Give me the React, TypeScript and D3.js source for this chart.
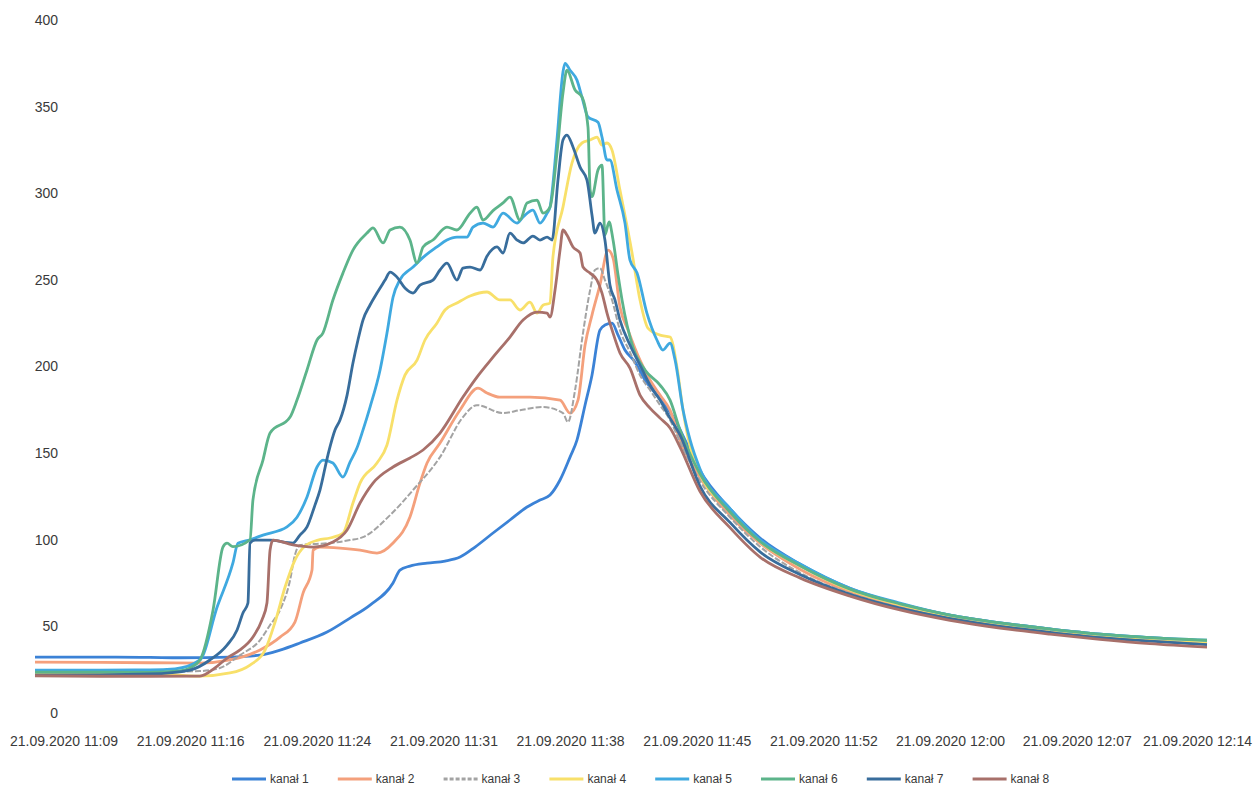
import React, { useEffect, useRef } from "react";
import * as d3 from "d3";

// minutes after 11:00
const tickMinutes = [9, 16.33, 23.67, 31, 38.33, 45.67, 53, 60.33, 67.67, 75];
const tickLabels = [
  "21.09.2020 11:09",
  "21.09.2020 11:16",
  "21.09.2020 11:24",
  "21.09.2020 11:31",
  "21.09.2020 11:38",
  "21.09.2020 11:45",
  "21.09.2020 11:52",
  "21.09.2020 12:00",
  "21.09.2020 12:07",
  "21.09.2020 12:14",
];
const yTicks = [0, 50, 100, 150, 200, 250, 300, 350, 400];

const seriesNames = ["kanał 1", "kanał 2", "kanał 3", "kanał 4", "kanał 5", "kanał 6", "kanał 7", "kanał 8"];
const seriesColors = ["#3b82d6", "#f4a07c", "#a3a3a3", "#f8e06a", "#3fa9e0", "#5cb48a", "#386d9c", "#a8706a"];

const kanal1: [number, number][] = [
  [7.32, 32.3], [11.08, 32.3], [13.98, 32.1], [15.72, 31.9], [18.61, 32.3], [20.35, 33.4], [21.51, 36.3],
  [22.66, 40.4], [24.23, 46.7], [25.56, 54.8], [26.72, 62.3], [28.05, 75], [28.45, 82.5], [29.03, 84.8],
  [30.02, 86.5], [31.06, 87.7], [31.93, 90], [32.8, 95.8], [33.84, 103.9], [34.82, 111.4], [35.81, 118.9],
  [36.56, 122.9], [37.14, 125.8], [37.72, 134.5], [38.3, 147.7], [38.7, 157.5], [39.17, 177.8], [39.57, 195],
  [40.03, 221], [40.32, 223.9], [40.73, 225], [41.08, 218.1], [41.48, 209.5], [42.06, 202.6], [42.64, 192.2],
  [43.22, 184.7], [43.8, 177.7], [44.38, 169.1], [44.96, 157.5], [45.82, 140], [47.56, 118], [49.3, 101],
  [51.61, 86], [54.51, 72], [57.4, 63], [60.3, 56.5], [63.19, 52], [66.09, 48.5], [68.98, 45.5], [71.88, 43.5],
  [75.18, 41.5],
];

const kanal2: [number, number][] = [
  [7.32, 29.4], [11.08, 29.2], [13.98, 29], [16.87, 28.8], [18.61, 30.6], [20.35, 36.4], [21.51, 43.8],
  [22.37, 52.5], [22.84, 69.2], [23.36, 82.5], [23.42, 94], [23.82, 95.8], [24.98, 95.2], [26.14, 94],
  [27.12, 92.3], [28.05, 98.1], [29.03, 113.1], [29.61, 132.7], [30.02, 144.3], [30.77, 155.8], [31.93, 174.9],
  [32.97, 187.5], [33.49, 184.7], [34.24, 182.3], [35.98, 182.3], [37.72, 180.6], [38.3, 173.1], [38.76, 180.6],
  [39.17, 212.4], [39.57, 229.7], [40.03, 247], [40.5, 267.2], [40.79, 262.6], [41.19, 234.3], [41.66, 221],
  [42.35, 203.7], [42.93, 192.2], [43.51, 183.5], [44.09, 174.8], [44.67, 157.5], [45.82, 136], [47.56, 114],
  [49.3, 98], [51.61, 83], [54.51, 70], [57.4, 62], [60.3, 55.5], [63.19, 51], [66.09, 47.5], [68.98, 44.5],
  [71.88, 42], [75.18, 40],
];

const kanal3: [number, number][] = [
  [7.32, 23.6], [11.08, 23.5], [13.98, 23.6], [16.87, 24.2], [18.03, 26], [19.19, 33.4], [20.35, 42.1],
  [20.93, 50.8], [21.51, 59.5], [22.09, 76.7], [22.37, 91.2], [22.66, 97], [24.4, 98.1], [25.56, 99.8],
  [26.31, 101.5], [27.88, 114.2], [29.21, 128.7], [30.77, 147.7], [32.1, 170.8], [32.91, 177.7], [34.42, 173.1],
  [35.4, 174.8], [36.73, 176.6], [37.89, 173.1], [38.18, 167.9], [38.59, 186.4], [39.05, 219.3], [39.46, 244.1],
  [39.74, 255.7], [40.03, 256.8], [40.32, 249.9], [40.73, 238.4], [41.19, 221], [41.77, 208.3], [42.35, 195],
  [42.93, 186.4], [43.51, 177.7], [44.09, 169.1], [44.67, 156.4], [45.82, 134], [47.56, 113], [49.3, 96],
  [51.61, 81], [54.51, 69], [57.4, 61], [60.3, 55], [63.19, 50.5], [66.09, 47], [68.98, 44], [71.88, 42],
  [75.18, 40],
];

const kanal4: [number, number][] = [
  [7.32, 22.5], [11.08, 22.6], [13.98, 23.1], [16.87, 21.3], [18.61, 23.1], [19.77, 27.7], [20.64, 36.3],
  [21.22, 52.5], [21.8, 72.7], [22.37, 88.3], [22.95, 96.4], [23.71, 99.8], [24.4, 101], [25.15, 103.8],
  [25.73, 121.2], [26.14, 132.7], [27.12, 144.3], [27.7, 154.7], [28.28, 180.6], [28.74, 195], [29.44, 203.7],
  [29.9, 215.3], [30.59, 225], [31.06, 232.6], [31.75, 236.6], [32.51, 240.7], [33.49, 243], [34.24, 238.4],
  [34.82, 238.4], [35.4, 232.6], [35.98, 237.2], [36.39, 230.8], [36.73, 235.4], [37.14, 236.6], [37.31, 263.2],
  [37.89, 292], [38.41, 317.4], [38.99, 329], [39.46, 330.7], [39.86, 332.4], [40.15, 327.8], [40.44, 329],
  [40.73, 324.9], [41.19, 301.8], [41.89, 265.5], [42.35, 238.4], [42.81, 222.2], [43.51, 218.1], [44.09, 217],
  [44.49, 199.7], [44.84, 174.8], [45.42, 147.7], [45.82, 138], [47.56, 117], [49.3, 99], [51.61, 85],
  [54.51, 71], [57.4, 62.5], [60.3, 56], [63.19, 51.5], [66.09, 48], [68.98, 45], [71.88, 43], [75.18, 41],
];

const kanal5: [number, number][] = [
  [7.32, 24.8], [11.08, 24.8], [13.98, 24.9], [15.43, 25.5], [16.87, 30.6], [17.86, 61], [18.78, 86.6],
  [19.07, 98], [19.77, 100], [20.52, 102.7], [21.91, 107.4], [22.49, 113], [23.07, 124.7], [23.65, 142],
  [23.99, 146], [24.57, 144.3], [25.15, 136.2], [25.56, 144.8], [25.96, 152.9], [26.31, 163.3], [26.72, 176.6],
  [27.3, 198], [27.7, 219.3], [28.05, 240], [28.45, 250], [29.21, 257.4], [29.79, 263], [30.59, 269],
  [31.17, 273], [31.75, 274.7], [32.33, 274.7], [32.68, 280.5], [33.26, 282.8], [33.84, 280.5], [34.42, 288.5],
  [35.23, 282.8], [35.58, 286.3], [36.15, 290.3], [36.56, 282.8], [36.97, 288.5], [37.14, 292], [37.54, 330.7],
  [37.89, 370], [38.01, 375], [38.3, 371], [38.7, 365.3], [38.99, 355.5], [39.34, 344], [39.92, 341],
  [40.15, 332.4], [40.44, 319.2], [40.61, 319.2], [41.02, 301.8], [41.48, 282.8], [41.77, 261.4], [42.18, 254],
  [42.75, 230.8], [43.33, 215.3], [43.68, 209.5], [44.09, 213.5], [44.38, 203.8], [44.84, 175], [45.25, 157.6],
  [45.82, 141], [47.56, 118], [49.3, 100], [51.61, 86], [54.51, 72], [57.4, 63.5], [60.3, 56.5], [63.19, 52],
  [66.09, 48.5], [68.98, 45.5], [71.88, 43.5], [75.18, 42],
];

const kanal6: [number, number][] = [
  [7.32, 23.6], [11.08, 23.6], [13.98, 23.5], [15.72, 24.3], [16.3, 26], [16.87, 30.6], [17.63, 59.5],
  [18.21, 96], [18.44, 98], [18.78, 96], [19.77, 100], [19.94, 123], [20.52, 146], [20.93, 161.6],
  [22.09, 170.8], [22.49, 180.6], [23.07, 198], [23.65, 215.3], [23.99, 219.3], [24.57, 238.4], [25.15, 253.9],
  [25.73, 267.2], [26.54, 277], [26.89, 280], [27.47, 271.3], [27.88, 278.8], [28.45, 280.5], [29.03, 273],
  [29.44, 259.7], [29.79, 269], [30.36, 273], [31.17, 280.5], [31.75, 278.8], [32.51, 288.5], [32.91, 292],
  [33.26, 284.5], [33.84, 290], [34.42, 294.4], [34.82, 297.8], [35.4, 284.5], [35.81, 294.4], [36.39, 296],
  [36.73, 288.5], [37.14, 292], [37.54, 323], [37.89, 357.8], [38.12, 371], [38.59, 359.6], [38.99, 355.6],
  [39.34, 338], [39.46, 302], [39.57, 298], [39.92, 313.5], [40.15, 316.2], [40.32, 275.9], [40.56, 283.4],
  [40.79, 273], [41.08, 252.8], [41.31, 238.4], [41.94, 211.2], [42.64, 198], [43.51, 189.3], [44.09, 180.6],
  [44.67, 163.3], [45.82, 138], [47.56, 116], [49.3, 99], [51.61, 85], [54.51, 71.5], [57.4, 63], [60.3, 56.5],
  [63.19, 52], [66.09, 48.5], [68.98, 45.5], [71.88, 43.5], [75.18, 42],
];

const kanal7: [number, number][] = [
  [7.32, 21.9], [11.08, 22], [13.98, 22.5], [16.3, 24.8], [17.45, 30.6], [18.44, 39.2], [19.02, 47.9],
  [19.36, 57.7], [19.65, 63.5], [19.77, 98.1], [20.06, 99.8], [20.93, 99.8], [22.26, 98.1], [22.66, 102.7],
  [23.07, 107.4], [23.53, 120], [23.82, 128.7], [24.28, 148.9], [24.69, 163.3], [24.98, 169.1], [25.39, 183.5],
  [25.73, 202], [26.02, 215.3], [26.31, 226.8], [26.72, 235.5], [27.12, 242.4], [27.59, 249.9], [27.88, 254.5],
  [28.28, 251.6], [28.74, 245.3], [29.21, 242.4], [29.61, 247], [30.36, 249.9], [30.77, 255.7], [31.17, 259.7],
  [31.75, 249.9], [32.1, 256.8], [32.51, 257.4], [33.09, 255.7], [33.49, 263.7], [34.07, 269], [34.42, 265.5],
  [34.82, 277], [35.23, 273], [35.58, 271.3], [36.15, 275.3], [36.56, 273], [36.97, 274.7], [37.26, 273],
  [37.6, 307.6], [37.89, 330.7], [38.12, 333.6], [38.47, 326.7], [38.88, 315.1], [39.28, 307.6], [39.57, 287.4],
  [39.74, 277], [40.03, 282.8], [40.32, 273], [40.61, 247], [40.9, 238.4], [41.19, 226.8], [41.77, 212.4],
  [42.35, 200.8], [42.93, 189.3], [43.51, 180.6], [44.09, 170.2], [44.67, 160.4], [45.82, 131], [47.56, 110],
  [49.3, 93], [51.61, 80], [54.51, 68.5], [57.4, 60.5], [60.3, 54.5], [63.19, 50], [66.09, 46.5], [68.98, 43.5],
  [71.88, 41.5], [75.18, 39.5],
];

const kanal8: [number, number][] = [
  [7.32, 21.5], [11.08, 21.2], [13.98, 21.2], [16.87, 21.3], [17.74, 26], [18.44, 31.7], [19.19, 36.4],
  [19.94, 43.9], [20.46, 53.7], [20.75, 63.5], [20.93, 94], [21.1, 99.8], [22.26, 97], [23.42, 95.8],
  [24.57, 98.7], [25.39, 105.6], [26.14, 121.2], [26.89, 132.7], [28.05, 142], [29.03, 147.2], [29.79, 151.8],
  [30.77, 161.6], [32.1, 182.4], [32.91, 193.9], [33.84, 205.4], [34.82, 217], [35.58, 226.8], [36.39, 231.4],
  [36.97, 230.8], [37.14, 228.5], [37.43, 244.1], [37.72, 267.2], [37.89, 278.8], [38.12, 275.9], [38.47, 269],
  [38.88, 265.5], [39.05, 257.4], [39.46, 253.9], [39.86, 249.9], [40.15, 242.4], [40.44, 230.8], [40.79, 219.3],
  [41.19, 207.8], [41.77, 199.1], [42.35, 183.5], [42.93, 176], [43.51, 170.2], [44.09, 164.5], [44.67, 153.5],
  [45.82, 128], [47.56, 107], [49.3, 90], [51.61, 78], [54.51, 67.5], [57.4, 59.5], [60.3, 53.5], [63.19, 49],
  [66.09, 45.5], [68.98, 42.5], [71.88, 40], [75.18, 38],
];

const allSeries = [kanal1, kanal2, kanal3, kanal4, kanal5, kanal6, kanal7, kanal8];

const font = "'Liberation Sans', Arial, sans-serif";

export default function App() {
  const ref = useRef<SVGSVGElement>(null);

  useEffect(() => {
    document.body.style.margin = "0";
    const svg = d3.select(ref.current);
    svg.selectAll("*").remove();

    const x = d3.scaleLinear().domain([7.32, 75.18]).range([35, 1207]);
    const y = d3.scaleLinear().domain([0, 400]).range([713, 20]);
    const width = 1254;

    // y axis labels, no axis line
    svg.append("g")
      .selectAll("text")
      .data(yTicks)
      .join("text")
      .attr("x", 58)
      .attr("y", (d) => y(d))
      .attr("dy", "0.35em")
      .attr("text-anchor", "end")
      .attr("font-family", font)
      .attr("font-size", 14)
      .attr("fill", "#3a3a3a")
      .text((d) => d);

    // x axis labels; the last one is held inside the picture
    svg.append("g")
      .selectAll("text")
      .data(tickMinutes)
      .join("text")
      .attr("x", (d, i) => (i === tickMinutes.length - 1 ? width - 2 : x(d)))
      .attr("y", 746)
      .attr("text-anchor", (d, i) => (i === tickMinutes.length - 1 ? "end" : "middle"))
      .attr("font-family", font)
      .attr("font-size", 14)
      .attr("fill", "#3a3a3a")
      .text((d, i) => tickLabels[i]);

    const line = d3.line<[number, number]>()
      .x((d) => x(d[0]))
      .y((d) => y(d[1]))
      .curve(d3.curveMonotoneX);

    allSeries.forEach((s, i) => {
      svg.append("path")
        .datum(s)
        .attr("fill", "none")
        .attr("stroke", seriesColors[i])
        .attr("stroke-width", i === 2 ? 2 : 2.8)
        .attr("stroke-dasharray", i === 2 ? "6,2" : null)
        .attr("stroke-linejoin", "round")
        .attr("d", line);
    });

    // legend
    const legend = svg.append("g")
      .selectAll("g")
      .data(seriesNames)
      .join("g")
      .attr("transform", (d, i) => "translate(" + (232 + i * 105.8) + ",779)");

    legend.append("line")
      .attr("x1", 0)
      .attr("x2", 34)
      .attr("stroke", (d, i) => seriesColors[i])
      .attr("stroke-width", 3)
      .attr("stroke-dasharray", (d, i) => (i === 2 ? "4,2" : null));

    legend.append("text")
      .attr("x", 38)
      .attr("dy", "0.35em")
      .attr("font-family", font)
      .attr("font-size", 12)
      .attr("fill", "#3a3a3a")
      .text((d) => d);
  }, []);

  return <svg ref={ref} width={1254} height={792} style={{ display: "block", background: "#fff" }} />;
}
